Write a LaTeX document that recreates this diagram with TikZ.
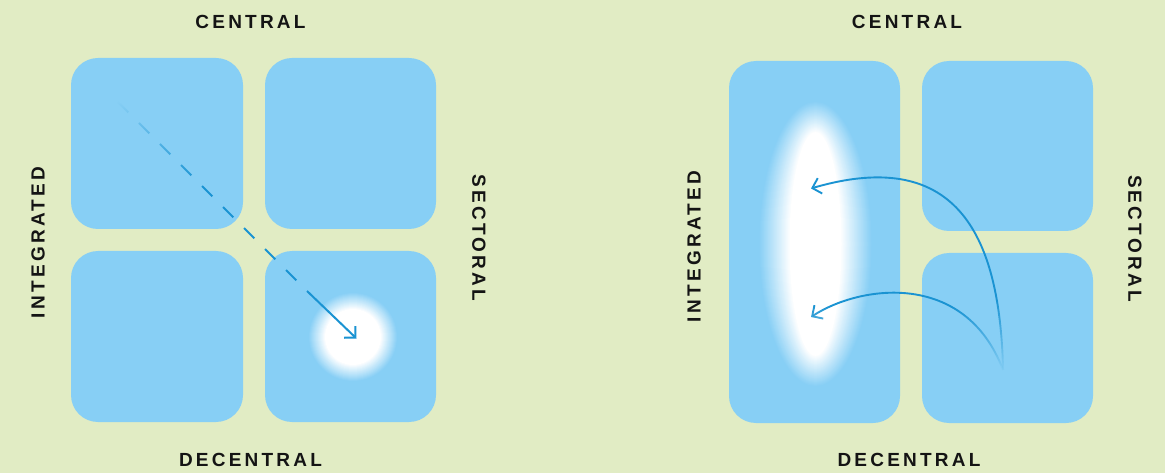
\documentclass[tikz,border=0pt]{standalone}
\usepackage{fontspec}
\setmainfont{Liberation Sans}
\newfontfamily\labelfont[LetterSpace=17]{Liberation Sans}
\usetikzlibrary{arrows.meta,fadings,calc}
\definecolor{bg}{HTML}{E1ECC4}
\definecolor{boxblue}{HTML}{87CFF5}
\definecolor{arrowblue}{HTML}{1A93D2}
\definecolor{ink}{HTML}{141414}
% fadings: white = opaque, black = transparent
\pgfdeclareverticalshading{dashshade}{100bp}{color(0bp)=(pgftransparent!0); color(53bp)=(pgftransparent!0); color(75bp)=(pgftransparent!100); color(100bp)=(pgftransparent!100)}
\pgfdeclarefading{dashfade}{\pgfuseshading{dashshade}}
\pgfdeclareverticalshading{curveAshade}{100bp}{color(0bp)=(pgftransparent!100); color(25bp)=(pgftransparent!100); color(41bp)=(pgftransparent!0); color(100bp)=(pgftransparent!0)}
\pgfdeclarefading{curveAfade}{\pgfuseshading{curveAshade}}
\pgfdeclareverticalshading{curveBshade}{100bp}{color(0bp)=(pgftransparent!100); color(25bp)=(pgftransparent!100); color(57bp)=(pgftransparent!0); color(100bp)=(pgftransparent!0)}
\pgfdeclarefading{curveBfade}{\pgfuseshading{curveBshade}}
\tikzset{
  cell/.style={fill=boxblue, draw=none, rounded corners=27pt, inner sep=0pt, outer sep=0pt},
  lab/.style={font=\labelfont\bfseries\fontsize{19}{19}\selectfont, text=ink, inner sep=0pt},
  leftarrow/.style={draw=arrowblue, line width=2pt},
  rightarrow/.style={draw=arrowblue, line width=1.9pt, -{Straight Barb[length=8pt,width=16pt]}},
}
\begin{document}
\begin{tikzpicture}[x=1pt,y=-1pt]
\fill[bg] (0,0) rectangle (1165,473);
\useasboundingbox (0,0) rectangle (1165,473);

% ---------- left panel ----------
\node[cell, minimum width=172pt, minimum height=171pt] (LTL) at (157,143.5) {};
\node[cell, minimum width=171pt, minimum height=171pt] (LTR) at (350.5,143.5) {};
\node[cell, minimum width=172pt, minimum height=171pt] (LBL) at (157,336.5) {};
\node[cell, minimum width=171pt, minimum height=171pt] (LBR) at (350.5,336.5) {};

\coordinate (glowL) at (353,337);
\foreach \k in {0,...,17}{
  \pgfmathtruncatemacro\p{100*\k/17}
  \pgfmathsetmacro\r{45-\k}
  \fill[white!\p!boxblue] (glowL) circle[radius=\r pt];
}

\coordinate (dS) at (118,102);
\coordinate (dM) at (307,291);
\coordinate (dE) at (356.5,338.5);
\draw[leftarrow, dash pattern=on 14.6pt off 15.1pt, path fading=dashfade] (dS) -- (dM);
\draw[leftarrow, -{Straight Barb[length=8pt,width=16pt]}] (dM) -- (dE);

\node[lab] (lC) at (250.5,22) {CENTRAL};
\node[lab] (lD) at (250.5,460) {DECENTRAL};
\node[lab, rotate=90] (lI) at (38,242.5) {INTEGRATED};
\node[lab, rotate=-90] (lS) at (479,238) {SECTORAL};

% ---------- right panel ----------
\node[cell, minimum width=171pt, minimum height=362pt] (RL) at (814.5,242) {};
\node[cell, minimum width=171pt, minimum height=170pt] (RTR) at (1007.5,146) {};
\node[cell, minimum width=171pt, minimum height=170pt] (RBR) at (1007.5,338) {};

\coordinate (glowR) at (815.5,244);
\foreach \k in {0,...,31}{
  \pgfmathtruncatemacro\p{100*\k/31}
  \pgfmathsetmacro\rx{57-\k}
  \pgfmathsetmacro\ry{143-\k}
  \fill[white!\p!boxblue] (glowR) ellipse[x radius=\rx pt, y radius=\ry pt];
}

\coordinate (src) at (1003,370);
\coordinate (tA) at (811,188.5);
\coordinate (tB) at (811,317);
\draw[rightarrow, path fading=curveAfade] (src) .. controls (1000,240) and (960,145) .. (tA);
\draw[rightarrow, path fading=curveBfade] (src) .. controls (965,270) and (860,285) .. (tB);

\node[lab] (rC) at (907,22) {CENTRAL};
\node[lab] (rD) at (909,460) {DECENTRAL};
\node[lab, rotate=90] (rI) at (694,246.5) {INTEGRATED};
\node[lab, rotate=-90] (rS) at (1135,238.5) {SECTORAL};
\end{tikzpicture}
\end{document}
